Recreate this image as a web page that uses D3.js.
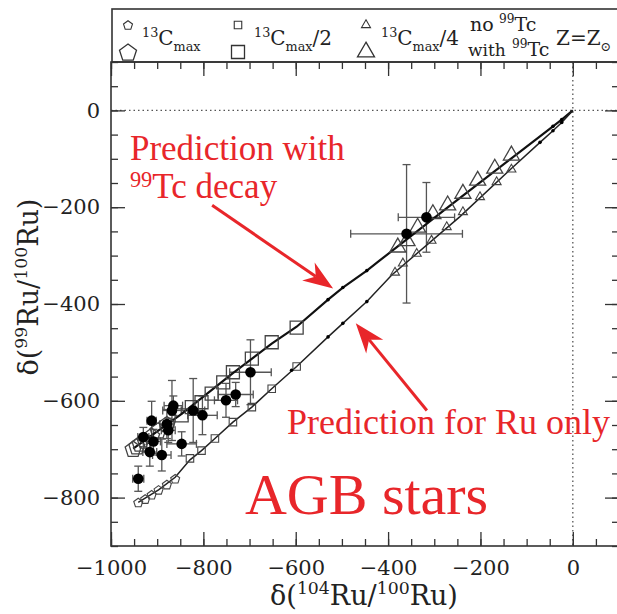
<!DOCTYPE html>
<html>
<head>
<meta charset="utf-8">
<script src="https://cdn.jsdelivr.net/npm/d3@7.9.0/dist/d3.min.js"></script>
<style>
html, body { margin: 0; padding: 0; background: #fff; overflow: hidden; }
svg { display: block; }
</style>
</head>
<body>
<svg id="chart" width="617" height="614"></svg>
<script>
// model tracks, [d104Ru, d99Ru] in permil
const lineWithTc = [[0,0],[-24,-19],[-43,-33],[-133,-99],[-273,-202],[-418,-310],[-446,-331],[-498,-366],[-530,-391],[-598,-447],[-652,-482],[-736,-543],[-847,-627],[-952,-699]];
const lineNoTc = [[0,0],[-24,-25],[-43,-42],[-71,-66],[-133,-120],[-245,-220],[-392,-340],[-446,-395],[-498,-440],[-530,-468],[-598,-529],[-652,-575],[-695,-613],[-736,-644],[-775,-678],[-804,-703],[-829,-722],[-861,-758],[-897,-784],[-941,-810]];
const dotsWithTc = [[-24,-19],[-43,-33],[-446,-331],[-498,-366],[-530,-391]];
const dotsNoTc = [[-24,-25],[-43,-42],[-71,-66],[-446,-395],[-498,-440],[-530,-468],[-609,-537]];

// 13C pocket cases: triangles = 13Cmax/4, squares = 13Cmax/2, pentagons = 13Cmax
const triWithTc = [[-133,-93],[-169,-120],[-206,-145],[-238,-172],[-271,-196],[-303,-214],[-336,-242],[-359,-270],[-379,-283]];
const triNoTc = [[-133,-122],[-165,-148],[-201,-179],[-238,-210],[-273,-241],[-306,-269],[-338,-296],[-368,-316],[-385,-335]];
const sqWithTc = [[-598,-449],[-652,-479],[-695,-513],[-736,-541],[-757,-562],[-782,-585],[-804,-603],[-825,-613],[-847,-630]];
const sqNoTc = [[-598,-529],[-652,-575],[-695,-613],[-736,-644],[-775,-678],[-804,-703],[-829,-719]];
const pentWithTc = [[-879,-648],[-898,-661],[-912,-672],[-926,-682],[-937,-688],[-944,-694],[-952,-699]];
const pentNoTc = [[-861,-761],[-879,-773],[-897,-784],[-912,-794],[-926,-803],[-941,-810]];

// presolar SiC grains: [x, y, xerr, yerr]
const grains = [
  [-941,-761,12,26],[-912,-641,10,40],[-930,-675,12,20],[-908,-684,15,25],
  [-916,-706,15,29],[-890,-712,20,33],[-879,-648,15,30],[-876,-661,15,25],
  [-868,-620,20,62],[-865,-610,20,20],[-847,-689,32,25],[-822,-620,25,66],
  [-802,-630,32,40],[-751,-599,25,35],[-730,-587,38,25],[-698,-541,45,67],
  [-360,-255,121,143],[-317,-221,61,72]
];

const xTicks = [-1000,-800,-600,-400,-200,0];
const yTicks = [-800,-600,-400,-200,0];
const xMinor = d3.range(-1000, 101, 50);
const yMinor = d3.range(-900, 101, 50);

const svg = d3.select('#chart');
const x = d3.scaleLinear().domain([-1000, 100]).range([111, 619]);
const y = d3.scaleLinear().domain([-900, 100]).range([546, 62]);
const serif = 'DejaVu Serif, serif';
const red = '#e8262a';

function shape(type, s) {
  if (type === 'tri') {
    const r = s / Math.sqrt(3);
    return `M0,${-r}L${s/2},${r/2}L${-s/2},${r/2}Z`;
  }
  if (type === 'sq') return `M${-s/2},${-s/2}h${s}v${s}h${-s}Z`;
  const R = s / 1.902;
  const pts = d3.range(5).map(i => {
    const a = -Math.PI / 2 + i * 2 * Math.PI / 5;
    return [R * Math.cos(a), R * Math.sin(a) + R * 0.1];
  });
  return 'M' + pts.map(p => p.join(',')).join('L') + 'Z';
}

function rich(sel, parts, size, supShift = 0.4) {
  let shift = 0;
  parts.forEach(([txt, kind]) => {
    const target = kind === 'sup' ? -supShift * size : kind === 'sub' ? 0.32 * size : 0;
    sel.append('tspan')
      .attr('dy', target - shift)
      .attr('font-size', kind ? size * 0.64 : size)
      .text(txt);
    shift = target;
  });
}

// dotted zero lines
svg.append('line')
  .attr('x1', x(0)).attr('x2', x(0)).attr('y1', y(100)).attr('y2', y(-900))
  .attr('stroke', '#555').attr('stroke-width', 1.3).attr('stroke-dasharray', '1.5,3');
svg.append('line')
  .attr('x1', x(-1000)).attr('x2', x(100)).attr('y1', y(0)).attr('y2', y(0))
  .attr('stroke', '#555').attr('stroke-width', 1.3).attr('stroke-dasharray', '1.5,3');

// error bars
const eb = svg.append('g').attr('stroke', '#555').attr('stroke-width', 1.3).attr('fill', 'none');
grains.forEach(([gx, gy, ex, ey]) => {
  eb.append('line').attr('x1', x(gx)).attr('x2', x(gx)).attr('y1', y(gy - ey)).attr('y2', y(gy + ey));
  eb.append('line').attr('x1', x(gx) - 4).attr('x2', x(gx) + 4).attr('y1', y(gy - ey)).attr('y2', y(gy - ey));
  eb.append('line').attr('x1', x(gx) - 4).attr('x2', x(gx) + 4).attr('y1', y(gy + ey)).attr('y2', y(gy + ey));
  eb.append('line').attr('x1', x(gx - ex)).attr('x2', x(gx + ex)).attr('y1', y(gy)).attr('y2', y(gy));
  eb.append('line').attr('x1', x(gx - ex)).attr('x2', x(gx - ex)).attr('y1', y(gy) - 4).attr('y2', y(gy) + 4);
  eb.append('line').attr('x1', x(gx + ex)).attr('x2', x(gx + ex)).attr('y1', y(gy) - 4).attr('y2', y(gy) + 4);
});

// model lines
const line = d3.line().x(d => x(d[0])).y(d => y(d[1]));
svg.append('path').datum(lineWithTc).attr('d', line)
  .attr('fill', 'none').attr('stroke', '#111').attr('stroke-width', 2.2);
svg.append('path').datum(lineNoTc).attr('d', line)
  .attr('fill', 'none').attr('stroke', '#222').attr('stroke-width', 1.5);

function drawSymbols(data, type, size, sw) {
  svg.append('g').selectAll('path').data(data).join('path')
    .attr('transform', d => `translate(${x(d[0])},${y(d[1])})`)
    .attr('d', shape(type, size))
    .attr('fill', 'none').attr('stroke', '#444').attr('stroke-width', sw);
}
drawSymbols(triWithTc, 'tri', 16, 1.3);
drawSymbols(sqWithTc, 'sq', 13, 1.3);
drawSymbols(pentWithTc, 'pent', 16, 1.3);
drawSymbols(triNoTc, 'tri', 9, 1.1);
drawSymbols(sqNoTc, 'sq', 7.5, 1.1);
drawSymbols(pentNoTc, 'pent', 9, 1.1);

svg.append('g').selectAll('circle').data(dotsWithTc.concat(dotsNoTc)).join('circle')
  .attr('cx', d => x(d[0])).attr('cy', d => y(d[1])).attr('r', 1.8).attr('fill', '#000');

svg.append('g').selectAll('circle').data(grains).join('circle')
  .attr('cx', d => x(d[0])).attr('cy', d => y(d[1])).attr('r', 5.3).attr('fill', '#000');

// axes, ticks pointing inward
function styleAxis(g) {
  g.select('.domain').remove();
  g.selectAll('line').attr('stroke', '#333').attr('stroke-width', 1.3);
  g.selectAll('text').attr('font-family', serif).attr('font-size', 21).attr('fill', '#222');
}
const [L, R] = x.range();
const [B, T] = y.range();
svg.append('g').attr('transform', `translate(0,${B})`)
  .call(d3.axisBottom(x).tickValues(xMinor).tickSize(-7).tickSizeOuter(0).tickFormat('')).call(styleAxis);
svg.append('g').attr('transform', `translate(0,${B})`)
  .call(d3.axisBottom(x).tickValues(xTicks).tickSize(-14).tickSizeOuter(0).tickPadding(14).tickFormat(d3.format('d'))).call(styleAxis);
svg.append('g').attr('transform', `translate(0,${T})`)
  .call(d3.axisTop(x).tickValues(xMinor).tickSize(-7).tickSizeOuter(0).tickFormat('')).call(styleAxis);
svg.append('g').attr('transform', `translate(0,${T})`)
  .call(d3.axisTop(x).tickValues(xTicks).tickSize(-14).tickSizeOuter(0).tickFormat('')).call(styleAxis);
svg.append('g').attr('transform', `translate(${L},0)`)
  .call(d3.axisLeft(y).tickValues(yMinor).tickSize(-7).tickSizeOuter(0).tickFormat('')).call(styleAxis);
svg.append('g').attr('transform', `translate(${L},0)`)
  .call(d3.axisLeft(y).tickValues(yTicks).tickSize(-14).tickSizeOuter(0).tickPadding(11).tickFormat(d3.format('d'))).call(styleAxis);
svg.append('g').attr('transform', `translate(${R},0)`)
  .call(d3.axisRight(y).tickValues(yMinor).tickSize(-7).tickSizeOuter(0).tickFormat('')).call(styleAxis);
svg.append('g').attr('transform', `translate(${R},0)`)
  .call(d3.axisRight(y).tickValues(yTicks).tickSize(-14).tickSizeOuter(0).tickFormat('')).call(styleAxis);

svg.append('rect').attr('x', L).attr('y', T).attr('width', R - L).attr('height', B - T)
  .attr('fill', 'none').attr('stroke', '#333').attr('stroke-width', 1.6);

// axis titles
const xt = svg.append('text').attr('x', 364).attr('y', 605).attr('text-anchor', 'middle')
  .attr('font-family', serif).attr('fill', '#222');
rich(xt, [['δ('], ['104', 'sup'], ['Ru/'], ['100', 'sup'], ['Ru)']], 27);
const yt = svg.append('text').attr('transform', 'translate(38,287) rotate(-90)').attr('text-anchor', 'middle')
  .attr('font-family', serif).attr('fill', '#222');
rich(yt, [['δ('], ['99', 'sup'], ['Ru/'], ['100', 'sup'], ['Ru)']], 27);

// legend box
const lg = svg.append('g');
lg.append('rect').attr('x', L + 1).attr('y', 9).attr('width', 700).attr('height', T - 9)
  .attr('fill', 'none').attr('stroke', '#333').attr('stroke-width', 1.6);
[['pent', 128], ['sq', 238], ['tri', 366]].forEach(([t, px]) => {
  lg.append('path').attr('transform', `translate(${px},25)`).attr('d', shape(t, t === 'sq' ? 7.5 : 9))
    .attr('fill', 'none').attr('stroke', '#333').attr('stroke-width', 1.1);
  lg.append('path').attr('transform', `translate(${px},52)`).attr('d', shape(t, t === 'sq' ? 13 : 17))
    .attr('fill', 'none').attr('stroke', '#333').attr('stroke-width', 1.3);
});
const legendLabels = [[142, ''], [254, '/2'], [381, '/4']];
legendLabels.forEach(([px, tail]) => {
  const t = lg.append('text').attr('x', px).attr('y', 45).attr('font-family', serif).attr('fill', '#222');
  rich(t, [['13', 'sup'], ['C'], ['max', 'sub']].concat(tail ? [[tail]] : []), 20);
});
lg.append('text').attr('x', 470).attr('y', 31).attr('font-family', serif).attr('font-size', 19).attr('fill', '#222').text('no');
lg.append('text').attr('x', 468).attr('y', 56).attr('font-family', serif).attr('font-size', 17).attr('fill', '#222').text('with');
rich(lg.append('text').attr('x', 499).attr('y', 31).attr('font-family', serif).attr('fill', '#222'), [['99', 'sup'], ['Tc']], 19);
rich(lg.append('text').attr('x', 512).attr('y', 56).attr('font-family', serif).attr('fill', '#222'), [['99', 'sup'], ['Tc']], 19);
rich(lg.append('text').attr('x', 556).attr('y', 45).attr('font-family', serif).attr('fill', '#222'), [['Z=Z'], ['⊙', 'sub']], 20);

// annotations (data coordinates)
const ann = svg.append('g').attr('font-family', 'Liberation Serif, serif').attr('fill', red);
ann.append('text').attr('x', x(-959)).attr('y', y(-103)).attr('font-size', 35).text('Prediction with');
rich(ann.append('text').attr('x', x(-959)).attr('y', y(-180)), [['99', 'sup'], ['Tc decay']], 35, 0.3);
ann.append('text').attr('x', x(-619)).attr('y', y(-668)).attr('font-size', 36).text('Prediction for Ru only');
ann.append('text').attr('x', x(-710)).attr('y', y(-833)).attr('font-size', 58).text('AGB stars');

const arrows = [
  { from: [-781, -196], to: [-519, -368] },
  { from: [-316, -620], to: [-470, -440] }
];
arrows.forEach(a => {
  const x0 = x(a.from[0]), y0 = y(a.from[1]), x1 = x(a.to[0]), y1 = y(a.to[1]);
  const ang = Math.atan2(y1 - y0, x1 - x0);
  const len = 30, half = 11, notch = 9;
  const ux = Math.cos(ang), uy = Math.sin(ang);
  const bx = x1 - ux * len, by = y1 - uy * len;
  const nx = x1 - ux * (len - notch), ny = y1 - uy * (len - notch);
  svg.append('line').attr('x1', x0).attr('y1', y0).attr('x2', nx).attr('y2', ny)
    .attr('stroke', red).attr('stroke-width', 3);
  svg.append('path')
    .attr('d', `M${x1},${y1}L${bx - uy * half},${by + ux * half}L${nx},${ny}L${bx + uy * half},${by - ux * half}Z`)
    .attr('fill', red);
});
</script>
</body>
</html>
